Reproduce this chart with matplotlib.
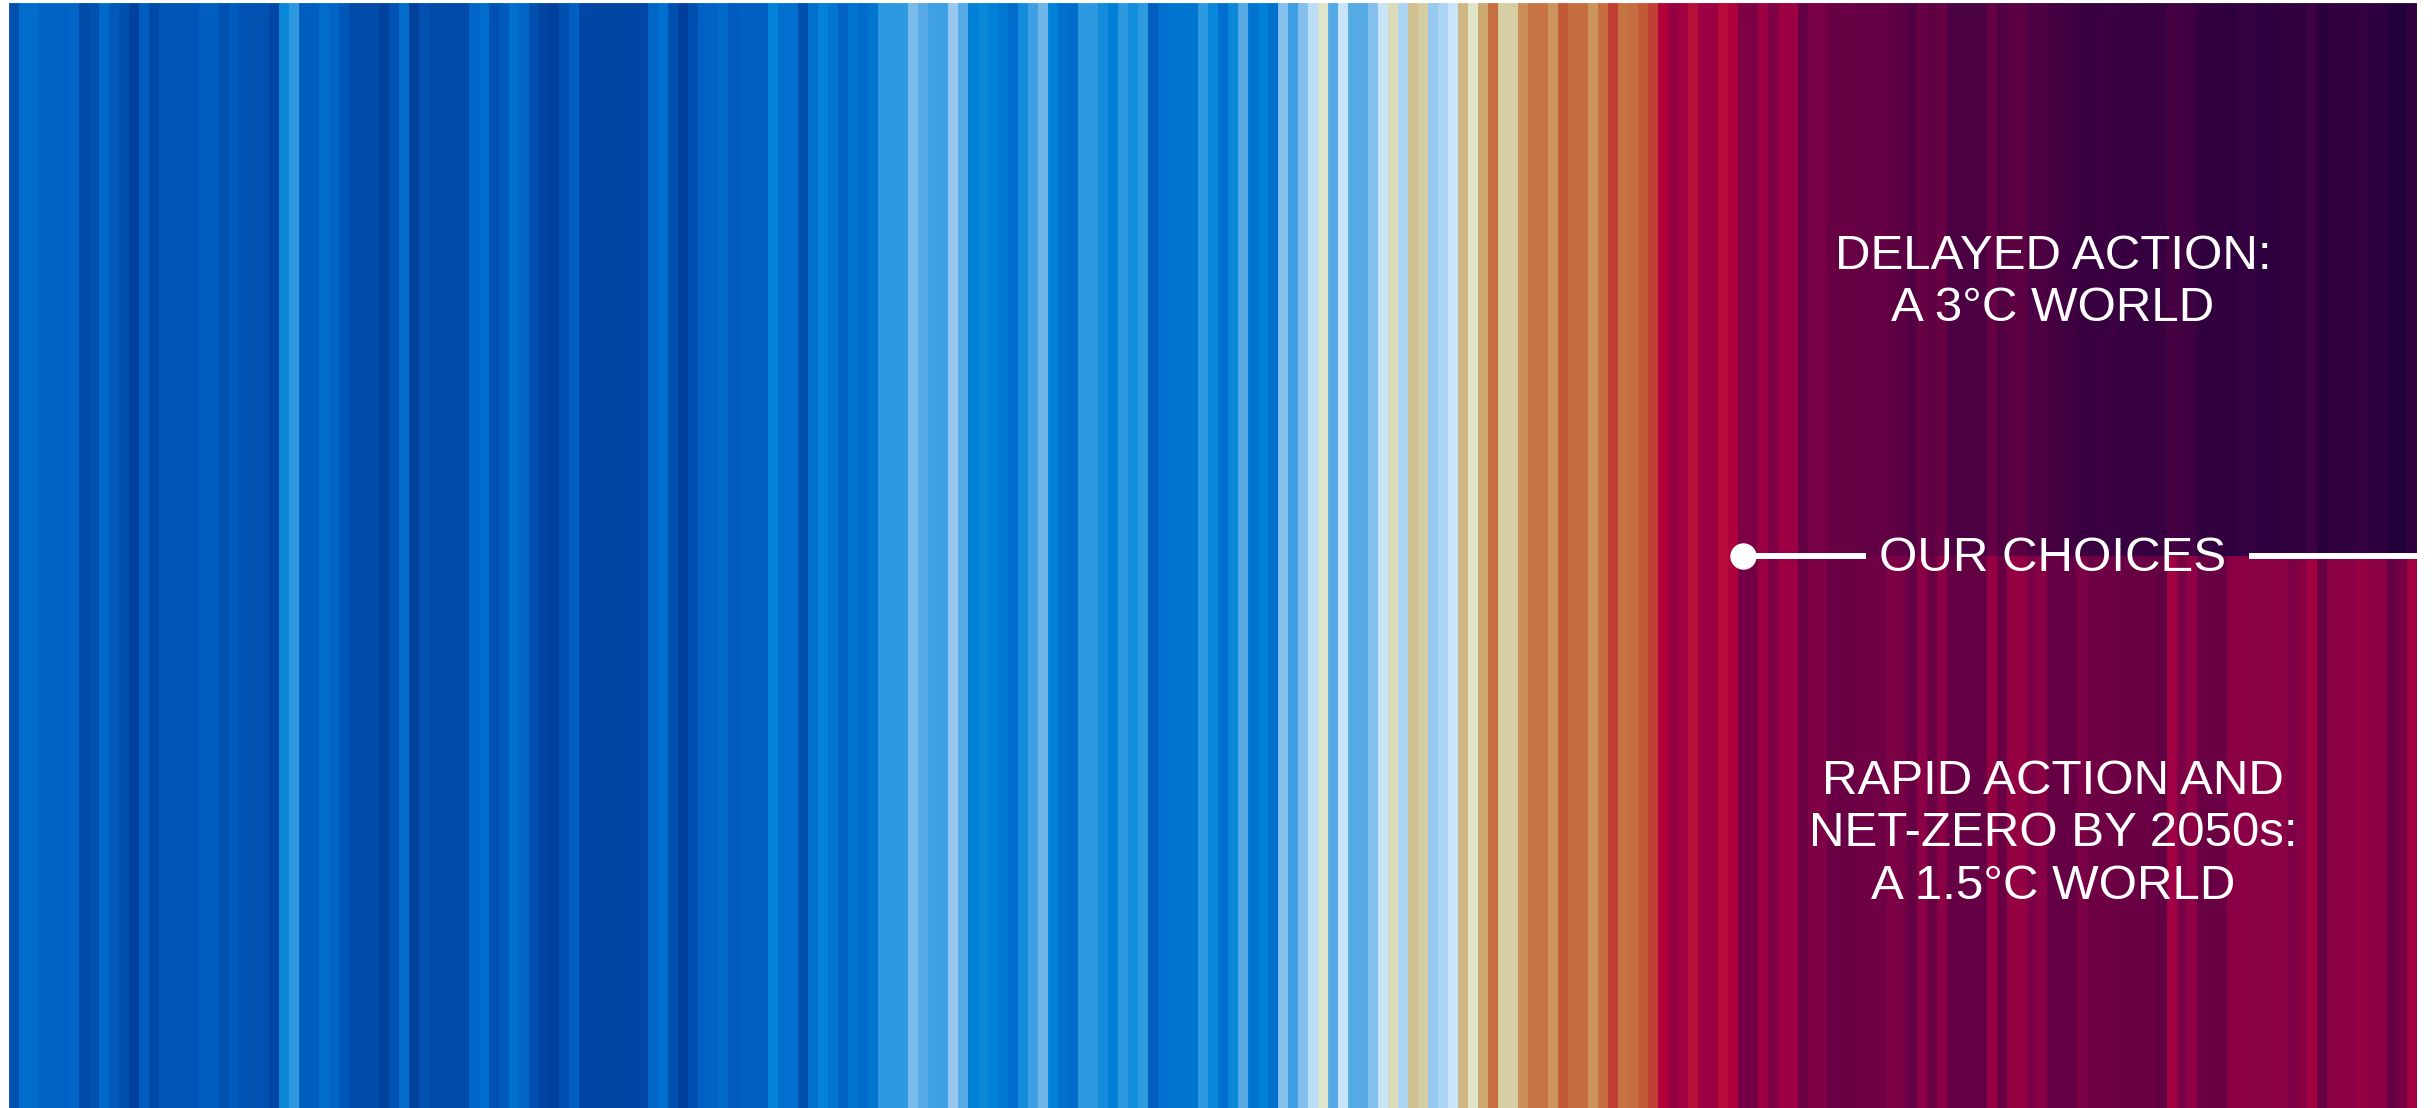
import numpy as np
import matplotlib
matplotlib.use("Agg")
import matplotlib.pyplot as plt
from matplotlib.colors import LinearSegmentedColormap, Normalize

# Annual temperature anomalies (deg C), one stripe per year
first_year = 1850
hist_anom = [
    -0.44, -0.20, -0.20, -0.28, -0.28, -0.28, -0.26, -0.50, -0.42, -0.22,
    -0.36, -0.44, -0.58, -0.32, -0.50, -0.38, -0.38, -0.38, -0.38, -0.32,
    -0.32, -0.44, -0.34, -0.40, -0.42, -0.42, -0.52, -0.06, 0.02, -0.32,
    -0.32, -0.20, -0.26, -0.36, -0.50, -0.50, -0.50, -0.58, -0.40, -0.20,
    -0.58, -0.42, -0.50, -0.50, -0.48, -0.48, -0.24, -0.20, -0.44, -0.34,
    -0.18, -0.24, -0.44, -0.56, -0.60, -0.44, -0.30, -0.52, -0.52, -0.54,
    -0.54, -0.54, -0.52, -0.52, -0.24, -0.18, -0.44, -0.60, -0.44, -0.28,
    -0.28, -0.22, -0.34, -0.30, -0.30, -0.30, -0.08, -0.18, -0.18, -0.44,
    -0.18, -0.08, -0.14, -0.28, -0.16, -0.20, -0.14, 0.02, 0.02, 0.02,
    0.13, 0.09, 0.05, 0.05, 0.17, 0.09, -0.10, -0.06, -0.10, -0.13,
    -0.20, -0.04, 0.05, 0.12, -0.10, -0.18, -0.20, 0.02, 0.02, -0.04,
    -0.10, 0.02, -0.04, 0.02, -0.32, -0.18, -0.14, -0.14, -0.14, 0.02,
    -0.06, -0.18, -0.06, 0.09, -0.16, -0.10, -0.18, 0.15, 0.05, 0.15,
    0.23, 0.30, 0.09, 0.25, 0.09, 0.09, 0.15, 0.25, 0.33, 0.21,
    0.40, 0.36, 0.17, 0.20, 0.25, 0.42, 0.30, 0.45, 0.56, 0.36,
    0.36, 0.50, 0.54, 0.54, 0.48, 0.60, 0.56, 0.56, 0.48, 0.56,
    0.66, 0.54, 0.56, 0.60, 0.66, 0.80, 0.96, 0.90, 0.76, 0.92,
    0.92, 0.78, 0.84,
]

# Delayed action (3C world) - top half
delayed_anom = [
    1.10, 1.10, 0.92, 1.10, 0.92, 0.92, 1.35, 1.15, 1.15, 1.30,
    1.30, 1.30, 1.35, 1.35, 1.32, 1.42, 1.48, 1.60, 1.30, 1.42,
    1.30, 1.70, 1.70, 1.70, 1.70, 1.32, 1.60, 1.45, 1.45, 1.70,
    1.62, 1.75, 1.85, 1.90, 2.00, 2.00, 2.00, 1.95, 2.05, 2.00,
    2.05, 2.10, 2.00, 1.75, 1.85, 1.90, 2.20, 2.20, 2.15, 2.25,
    2.10, 2.10, 2.30, 2.25, 2.15, 2.20, 2.20, 1.90, 2.40, 2.20,
    2.20, 2.20, 2.10, 2.30, 2.30, 2.50, 2.50, 2.15,
]

# Rapid action, net-zero by 2050s (1.5C world) - bottom half
rapid_anom = [
    1.20, 1.20, 0.92, 1.10, 0.92, 0.92, 1.28, 1.10, 1.10, 1.28,
    1.28, 1.28, 1.22, 1.22, 1.22, 1.10, 1.15, 1.32, 1.00, 1.28,
    1.00, 1.32, 1.32, 1.32, 1.32, 0.94, 1.28, 0.96, 0.96, 1.12,
    1.02, 1.32, 1.32, 1.32, 1.12, 1.25, 1.25, 1.25, 1.28, 1.28,
    1.28, 1.28, 1.38, 0.90, 1.12, 0.98, 1.28, 1.28, 1.28, 1.00,
    1.00, 1.02, 1.02, 1.00, 1.00, 1.12, 1.02, 0.88, 1.30, 1.02,
    1.00, 1.02, 0.95, 1.00, 1.00, 1.32, 1.15, 0.88,
]

labels_top = "DELAYED ACTION:\nA 3°C WORLD"
label_mid = "OUR CHOICES"
labels_bottom = "RAPID ACTION AND\nNET-ZERO BY 2050s:\nA 1.5°C WORLD"

# stripes colour scale
anchors = [
    (-0.60, "#00409c"), (-0.50, "#004aa8"), (-0.40, "#0054b4"), (-0.30, "#0060c2"),
    (-0.20, "#006ccc"), (-0.10, "#0080d6"), (0.00, "#1e94de"), (0.05, "#42a0e2"),
    (0.10, "#62b0e6"), (0.15, "#8cc2ee"), (0.20, "#acd4f4"), (0.25, "#c8e4f8"),
    (0.30, "#e0e4c8"), (0.35, "#d6d2a8"), (0.40, "#d0c090"), (0.45, "#cea870"),
    (0.50, "#c98a52"), (0.55, "#c67040"), (0.60, "#c25c38"), (0.66, "#c04034"),
    (0.72, "#bc2036"), (0.80, "#b4003a"), (0.90, "#a00042"), (1.00, "#8c0044"),
    (1.15, "#780045"), (1.30, "#680044"), (1.50, "#580042"), (1.70, "#4a0042"),
    (1.90, "#3e0041"), (2.10, "#340040"), (2.30, "#2c003e"), (2.50, "#22003a"),
]
vmin, vmax = anchors[0][0], anchors[-1][0]
cmap = LinearSegmentedColormap.from_list(
    "stripes", [((v - vmin) / (vmax - vmin), c) for v, c in anchors])
norm = Normalize(vmin, vmax)

n_hist = len(hist_anom)
hist_years = np.arange(first_year, first_year + n_hist)
fut_years = np.arange(hist_years[-1] + 1, hist_years[-1] + 1 + len(delayed_anom))

fig = plt.figure(figsize=(24.33, 11.08), dpi=100)
ax = fig.add_axes([9 / 2433, 0, 2408 / 2433, 1105 / 1108])

c = cmap(norm(hist_anom))
ax.bar(hist_years, 1.0, width=1.0, bottom=0, color=c, edgecolor=c, linewidth=0.6)
c = cmap(norm(delayed_anom))
ax.bar(fut_years, 0.5, width=1.0, bottom=0.5, color=c, edgecolor=c, linewidth=0.6)
c = cmap(norm(rapid_anom))
ax.bar(fut_years, 0.5, width=1.0, bottom=0, color=c, edgecolor=c, linewidth=0.6)

ax.set_xlim(hist_years[0] - 0.5, fut_years[-1] + 0.5)
ax.set_ylim(0, 1)
ax.axis("off")

# pointer line with dot
ax.plot([0.7201, 0.7712], [0.5, 0.5], color="white", lw=4.3,
        transform=ax.transAxes, solid_capstyle="butt")
ax.plot([0.9302, 1.0], [0.5, 0.5], color="white", lw=4.3,
        transform=ax.transAxes, solid_capstyle="butt")
ax.plot([0.7201], [0.5], "o", color="white", ms=18, transform=ax.transAxes)

font = dict(family=["Liberation Sans", "DejaVu Sans"], color="white",
            fontsize=35.5, ha="center", multialignment="center")
ax.text(0.8488, 0.7475, labels_top, va="center", linespacing=1.2,
        transform=ax.transAxes, **font)
ax.text(0.8488, 0.497, label_mid, va="center", transform=ax.transAxes, **font)
ax.text(0.8488, 0.248, labels_bottom, va="center", linespacing=1.22,
        transform=ax.transAxes, **font)

fig.savefig("out.png", dpi=100, facecolor="white")
